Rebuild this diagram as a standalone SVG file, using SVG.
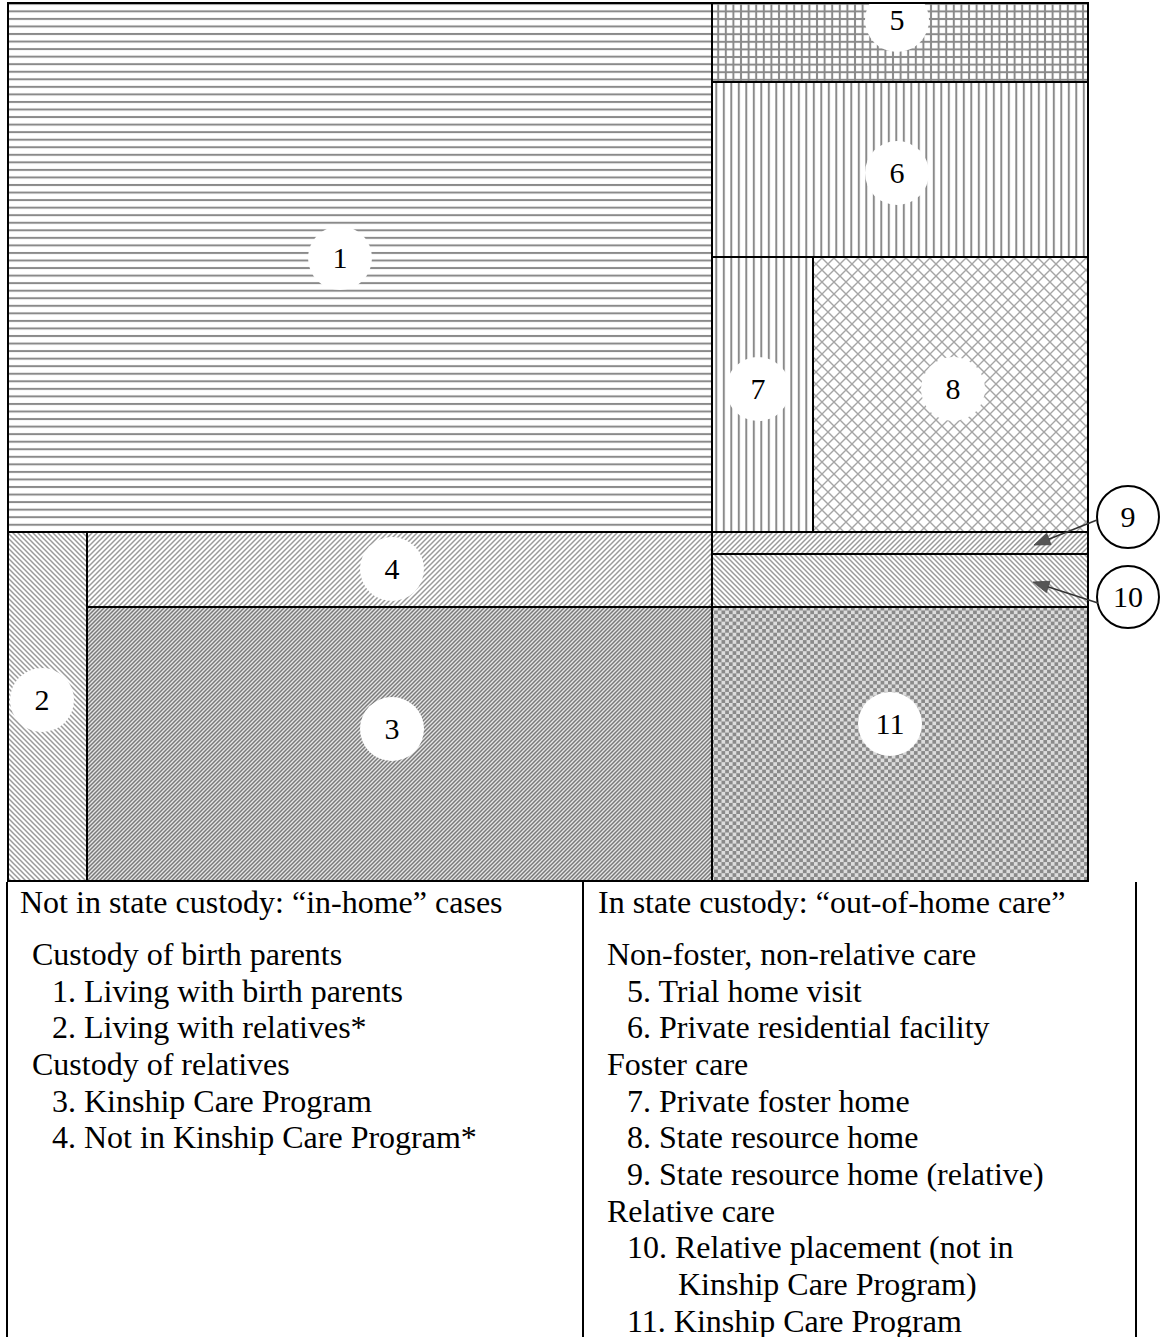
<svg xmlns="http://www.w3.org/2000/svg" width="1168" height="1337" viewBox="0 0 1168 1337">
<style>
.b{fill:none;stroke:#000;stroke-width:2}
.lbl{fill:#fff}
.n{font-family:"Liberation Serif","Times New Roman",serif;font-size:30px;text-anchor:middle;fill:#000}
.t{font-family:"Liberation Serif","Times New Roman",serif;font-size:32px;fill:#000}
.ln{stroke:#000;stroke-width:2}
.ar{stroke:#333;stroke-width:1.5;fill:none}
.ah{fill:#555;stroke:#444;stroke-width:0.8}
</style>
<defs>
<pattern id="pH" patternUnits="userSpaceOnUse" width="8" height="7.55"><rect width="8" height="7.55" fill="#fff"/><line x1="0" y1="3.8" x2="8" y2="3.8" stroke="#8a8a8a" stroke-width="2"/></pattern>
<pattern id="pV" patternUnits="userSpaceOnUse" width="7.5" height="8"><rect width="7.5" height="8" fill="#fff"/><line x1="3.8" y1="0" x2="3.8" y2="8" stroke="#8a8a8a" stroke-width="2"/></pattern>
<pattern id="pG" patternUnits="userSpaceOnUse" width="7.6" height="7.6"><rect width="7.6" height="7.6" fill="#fff"/><line x1="3.8" y1="0" x2="3.8" y2="7.6" stroke="#8a8a8a" stroke-width="2"/><line x1="0" y1="3.8" x2="7.6" y2="3.8" stroke="#8a8a8a" stroke-width="2"/></pattern>
<pattern id="pX" patternUnits="userSpaceOnUse" width="12" height="12"><rect width="12" height="12" fill="#fff"/><path d="M0,0 L12,12 M12,0 L0,12" stroke="#a5a5a5" stroke-width="1.4"/></pattern>
<pattern id="pF" patternUnits="userSpaceOnUse" width="5" height="5"><rect width="5" height="5" fill="#fff"/><path d="M0,5 L5,0 M-1,1 L1,-1 M4,6 L6,4" stroke="#9a9a9a" stroke-width="1.5"/></pattern>
<pattern id="pB" patternUnits="userSpaceOnUse" width="5" height="5"><rect width="5" height="5" fill="#fff"/><path d="M0,0 L5,5 M4,-1 L6,1 M-1,4 L1,6" stroke="#9a9a9a" stroke-width="1.5"/></pattern>
<pattern id="pD" patternUnits="userSpaceOnUse" width="4" height="4"><rect width="4" height="4" fill="#e6e6e6"/><path d="M0,4 L4,0 M-1,1 L1,-1 M3,5 L5,3" stroke="#7a7a7a" stroke-width="1.5"/></pattern>
<pattern id="pC" patternUnits="userSpaceOnUse" width="7.4" height="7.4"><rect width="7.4" height="7.4" fill="#dcdcdc"/><rect width="3.7" height="3.7" fill="#8a8a8a"/><rect x="3.7" y="3.7" width="3.7" height="3.7" fill="#8a8a8a"/></pattern>
<clipPath id="c5"><rect x="712" y="3" width="376" height="79"/></clipPath>
</defs>

<g id="node1"><rect x="8" y="3" width="704" height="529" fill="url(#pH)"/><rect class="b" x="8" y="3" width="704" height="529"/><circle class="lbl" cx="340" cy="258" r="32"/><text class="n" x="340" y="268">1</text></g>
<g id="node2"><rect x="8" y="532" width="79" height="349" fill="url(#pB)"/><rect class="b" x="8" y="532" width="79" height="349"/><circle class="lbl" cx="42" cy="700" r="32"/><text class="n" x="42" y="710">2</text></g>
<g id="node4"><rect x="87" y="532" width="625" height="75" fill="url(#pF)"/><rect class="b" x="87" y="532" width="625" height="75"/><circle class="lbl" cx="392" cy="569" r="32"/><text class="n" x="392" y="579">4</text></g>
<g id="node3"><rect x="87" y="607" width="625" height="274" fill="url(#pD)"/><rect class="b" x="87" y="607" width="625" height="274"/><circle class="lbl" cx="392" cy="729" r="32"/><text class="n" x="392" y="739">3</text></g>
<g id="node5"><rect x="712" y="3" width="376" height="79" fill="url(#pG)"/><circle class="lbl" cx="897" cy="20" r="32" clip-path="url(#c5)"/><rect class="b" x="712" y="3" width="376" height="79"/><text class="n" x="897" y="30">5</text></g>
<g id="node6"><rect x="712" y="82" width="376" height="175" fill="url(#pV)"/><rect class="b" x="712" y="82" width="376" height="175"/><circle class="lbl" cx="897" cy="173" r="32"/><text class="n" x="897" y="183">6</text></g>
<g id="node7"><rect x="712" y="257" width="101" height="275" fill="url(#pV)"/><rect class="b" x="712" y="257" width="101" height="275"/><circle class="lbl" cx="758" cy="389" r="32"/><text class="n" x="758" y="399">7</text></g>
<g id="node8"><rect x="813" y="257" width="275" height="275" fill="url(#pX)"/><rect class="b" x="813" y="257" width="275" height="275"/><circle class="lbl" cx="953" cy="389" r="32"/><text class="n" x="953" y="399">8</text></g>
<g id="node9"><rect x="712" y="532" width="376" height="22" fill="url(#pF)"/><rect class="b" x="712" y="532" width="376" height="22"/><circle cx="1128" cy="517" r="31" fill="#fff" stroke="#000" stroke-width="2"/><text class="n" x="1128" y="527">9</text></g>
<g id="node10"><rect x="712" y="554" width="376" height="53" fill="url(#pB)"/><rect class="b" x="712" y="554" width="376" height="53"/><circle cx="1128" cy="597" r="31" fill="#fff" stroke="#000" stroke-width="2"/><text class="n" x="1128" y="607">10</text></g>
<g id="node11"><rect x="712" y="607" width="376" height="274" fill="url(#pC)"/><rect class="b" x="712" y="607" width="376" height="274"/><circle class="lbl" cx="890" cy="724" r="32"/><text class="n" x="890" y="734">11</text></g>

<g id="connectors">
<line class="ar" x1="1097" y1="520" x2="1048" y2="539.5"/>
<polygon class="ah" points="1034,545 1046.7,533.5 1051.1,544.7"/>
<line class="ar" x1="1098" y1="603" x2="1047" y2="586.5"/>
<polygon class="ah" points="1033,582 1050,581.2 1046.4,592.6"/>
</g>

<g id="legend">
<line class="ln" x1="7" y1="882" x2="7" y2="1337"/>
<line class="ln" x1="583" y1="882" x2="583" y2="1337"/>
<line class="ln" x1="1136" y1="882" x2="1136" y2="1337"/>
<text class="t" x="20" y="913">Not in state custody: “in-home” cases</text>
<text class="t" x="598" y="913">In state custody: “out-of-home care”</text>
<text class="t" x="32" y="965">Custody of birth parents</text>
<text class="t" x="52" y="1002">1. Living with birth parents</text>
<text class="t" x="52" y="1038">2. Living with relatives*</text>
<text class="t" x="32" y="1075">Custody of relatives</text>
<text class="t" x="52" y="1112">3. Kinship Care Program</text>
<text class="t" x="52" y="1148">4. Not in Kinship Care Program*</text>
<text class="t" x="607" y="965">Non-foster, non-relative care</text>
<text class="t" x="627" y="1002">5. Trial home visit</text>
<text class="t" x="627" y="1038">6. Private residential facility</text>
<text class="t" x="607" y="1075">Foster care</text>
<text class="t" x="627" y="1112">7. Private foster home</text>
<text class="t" x="627" y="1148">8. State resource home</text>
<text class="t" x="627" y="1185">9. State resource home (relative)</text>
<text class="t" x="607" y="1222">Relative care</text>
<text class="t" x="627" y="1258">10. Relative placement (not in</text>
<text class="t" x="678" y="1295">Kinship Care Program)</text>
<text class="t" x="627" y="1332">11. Kinship Care Program</text>
</g>
</svg>
